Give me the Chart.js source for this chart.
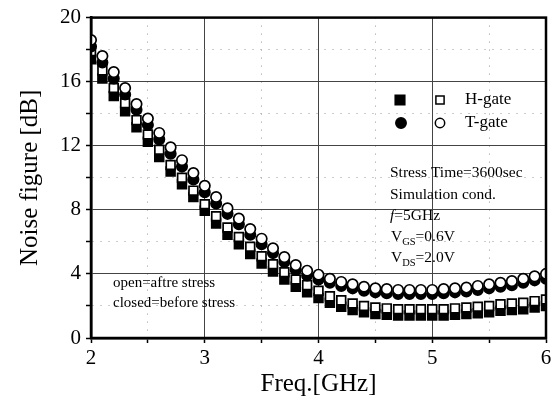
<!DOCTYPE html>
<html>
<head>
<meta charset="utf-8">
<script src="https://cdn.jsdelivr.net/npm/chart.js@4"></script>
<style>
  html, body { margin: 0; padding: 0; background: #fff; }
  #wrap { width: 557px; height: 407px; }
</style>
</head>
<body>
<div id="wrap"><canvas id="nfChart" width="557" height="407"></canvas></div>
<script>
// Frequency sweep, GHz
const freq = [2.0, 2.1, 2.2, 2.3, 2.4, 2.5, 2.6, 2.7, 2.8, 2.9,
              3.0, 3.1, 3.2, 3.3, 3.4, 3.5, 3.6, 3.7, 3.8, 3.9,
              4.0, 4.1, 4.2, 4.3, 4.4, 4.5, 4.6, 4.7, 4.8, 4.9,
              5.0, 5.1, 5.2, 5.3, 5.4, 5.5, 5.6, 5.7, 5.8, 5.9, 6.0];

// Noise figure [dB]
const tGateAfter = [18.6, 17.6, 16.6, 15.6, 14.6, 13.7, 12.8, 11.9, 11.1, 10.3,
                    9.5, 8.8, 8.1, 7.45, 6.8, 6.2, 5.6, 5.05, 4.55, 4.2,
                    3.95, 3.7, 3.5, 3.35, 3.2, 3.1, 3.05, 3.0, 3.0, 3.0,
                    3.0, 3.05, 3.1, 3.15, 3.25, 3.35, 3.45, 3.55, 3.7, 3.85, 4.0];
const tGateBefore = [18.2, 17.2, 16.2, 15.2, 14.25, 13.3, 12.4, 11.5, 10.7, 9.9,
                     9.1, 8.4, 7.75, 7.1, 6.45, 5.85, 5.3, 4.75, 4.25, 3.9,
                     3.65, 3.45, 3.25, 3.1, 2.95, 2.85, 2.8, 2.75, 2.75, 2.75,
                     2.75, 2.8, 2.85, 2.9, 3.0, 3.1, 3.2, 3.3, 3.45, 3.6, 3.7];
const hGateAfter = [17.9, 16.7, 15.6, 14.65, 13.6, 12.7, 11.75, 10.8, 10.0, 9.2,
                    8.35, 7.6, 6.9, 6.3, 5.7, 5.1, 4.6, 4.1, 3.65, 3.3,
                    2.95, 2.6, 2.35, 2.15, 2.0, 1.9, 1.85, 1.8, 1.8, 1.8,
                    1.8, 1.8, 1.85, 1.9, 1.95, 2.0, 2.1, 2.15, 2.2, 2.3, 2.4];
const hGateBefore = [17.4, 16.2, 15.1, 14.15, 13.15, 12.25, 11.3, 10.4, 9.6, 8.8,
                     7.95, 7.15, 6.45, 5.85, 5.25, 4.65, 4.15, 3.65, 3.2, 2.85,
                     2.5, 2.2, 1.95, 1.75, 1.6, 1.5, 1.45, 1.4, 1.4, 1.4,
                     1.4, 1.4, 1.45, 1.5, 1.55, 1.6, 1.7, 1.75, 1.8, 1.9, 2.0];

const xTickLabels = [2, 3, 4, 5, 6];
const yTickLabels = [0, 4, 8, 12, 16, 20];

const SERIF = '"Liberation Serif", "DejaVu Serif", serif';

function pts(ys) {
    return freq.map((f, i) => ({ x: f, y: ys[i] }));
}

function isMajor(v, list) {
    return list.some(t => Math.abs(t - v) < 1e-6);
}

// frame, legend and the text notes inside the plot
const notesPlugin = {
    id: 'notes',
    afterDatasetsDraw(chart) {
        const { ctx, chartArea: a } = chart;
        ctx.save();
        ctx.strokeStyle = '#000';
        ctx.lineWidth = 2.5;
        ctx.strokeRect(a.left, a.top, a.right - a.left, a.bottom - a.top);

        // legend
        const drawMark = (style, fill, x, y, r) => {
            ctx.fillStyle = fill;
            ctx.strokeStyle = '#000';
            ctx.lineWidth = 1.5;
            Chart.helpers.drawPoint(ctx, { pointStyle: style, radius: r, borderWidth: 1.5 }, x, y);
        };
        drawMark('rect', '#000', 400, 100, 6.8);
        drawMark('rect', '#fff', 440, 100, 5.8);
        drawMark('circle', '#000', 401, 123, 5.2);
        drawMark('circle', '#fff', 440, 123, 4.7);

        ctx.fillStyle = '#000';
        ctx.textBaseline = 'middle';
        ctx.textAlign = 'left';
        ctx.font = '17px ' + SERIF;
        ctx.fillText('H-gate', 465, 100);
        ctx.fillText('T-gate', 465, 123);

        ctx.font = '15.5px ' + SERIF;
        ctx.fillText('Stress Time=3600sec', 390, 173);
        ctx.fillText('Simulation cond.', 390, 195);

        ctx.font = 'italic 15.5px ' + SERIF;
        ctx.fillText('f', 390, 216);
        const fw = ctx.measureText('f').width;
        ctx.font = '15.5px ' + SERIF;
        ctx.fillText('=5GHz', 390 + fw, 216);

        const sub = (main, s, rest, x, y) => {
            ctx.font = '15.5px ' + SERIF;
            ctx.fillText(main, x, y);
            let w = ctx.measureText(main).width;
            ctx.font = '10.5px ' + SERIF;
            ctx.fillText(s, x + w, y + 5);
            w += ctx.measureText(s).width;
            ctx.font = '15.5px ' + SERIF;
            ctx.fillText(rest, x + w, y);
        };
        sub('V', 'GS', '=0.6V', 391, 237);
        sub('V', 'DS', '=2.0V', 391, 258);

        ctx.font = '15px ' + SERIF;
        ctx.fillText('open=aftre stress', 113, 283);
        ctx.fillText('closed=before stress', 113, 303);
        ctx.restore();
    }
};

const markStyle = {
    borderColor: '#000',
    borderWidth: 1.7
};

new Chart(document.getElementById('nfChart'), {
    type: 'scatter',
    data: {
        datasets: [
            Object.assign({
                label: 'T-gate (after stress)',
                data: pts(tGateAfter),
                pointStyle: 'circle',
                pointRadius: 5.2,
                backgroundColor: '#fff'
            }, markStyle),
            Object.assign({
                label: 'T-gate (before stress)',
                data: pts(tGateBefore),
                pointStyle: 'circle',
                pointRadius: 5.2,
                backgroundColor: '#000'
            }, markStyle),
            Object.assign({
                label: 'H-gate (after stress)',
                data: pts(hGateAfter),
                pointStyle: 'rect',
                pointRadius: 6.2,
                backgroundColor: '#fff'
            }, markStyle),
            Object.assign({
                label: 'H-gate (before stress)',
                data: pts(hGateBefore),
                pointStyle: 'rect',
                pointRadius: 6.2,
                backgroundColor: '#000'
            }, markStyle)
        ]
    },
    options: {
        responsive: false,
        animation: false,
        clip: 0,
        layout: { padding: { top: 13, right: 11, left: 0, bottom: 0 } },
        plugins: {
            legend: { display: false },
            tooltip: { enabled: false }
        },
        scales: {
            x: {
                type: 'linear',
                min: 2,
                max: 6,
                afterFit: s => { s.height = 69; },
                ticks: {
                    stepSize: 0.5,
                    autoSkip: false,
                    maxRotation: 0,
                    padding: 3,
                    color: '#000',
                    font: { family: SERIF, size: 21 },
                    callback: v => (isMajor(v, xTickLabels) ? String(v) : '')
                },
                grid: {
                    color: c => (isMajor(c.tick.value, xTickLabels) ? '#444' : '#999'),
                    lineWidth: 1,
                    tickColor: '#000',
                    tickLength: 5,
                    tickWidth: 1.5
                },
                border: {
                    color: '#000',
                    width: 2.5,
                    dash: c => (c.tick && !isMajor(c.tick.value, xTickLabels) ? [1, 7] : [])
                },
                title: {
                    display: true,
                    text: 'Freq.[GHz]',
                    color: '#000',
                    font: { family: SERIF, size: 25 },
                    padding: { top: 0, bottom: 8 }
                }
            },
            y: {
                min: 0,
                max: 20,
                afterFit: s => { s.width = 91; },
                ticks: {
                    stepSize: 2,
                    autoSkip: false,
                    padding: 5,
                    color: '#000',
                    font: { family: SERIF, size: 21 },
                    callback: v => (isMajor(v, yTickLabels) ? String(v) : '')
                },
                grid: {
                    color: c => (isMajor(c.tick.value, yTickLabels) ? '#444' : '#999'),
                    lineWidth: 1,
                    tickColor: '#000',
                    tickLength: 5,
                    tickWidth: 1.5
                },
                border: {
                    color: '#000',
                    width: 2.5,
                    dash: c => (c.tick && !isMajor(c.tick.value, yTickLabels) ? [1, 7] : [])
                },
                title: {
                    display: true,
                    text: 'Noise figure [dB]',
                    color: '#000',
                    font: { family: SERIF, size: 25 },
                    padding: { top: 15, bottom: 0 }
                }
            }
        }
    },
    plugins: [notesPlugin]
});
</script>
</body>
</html>
